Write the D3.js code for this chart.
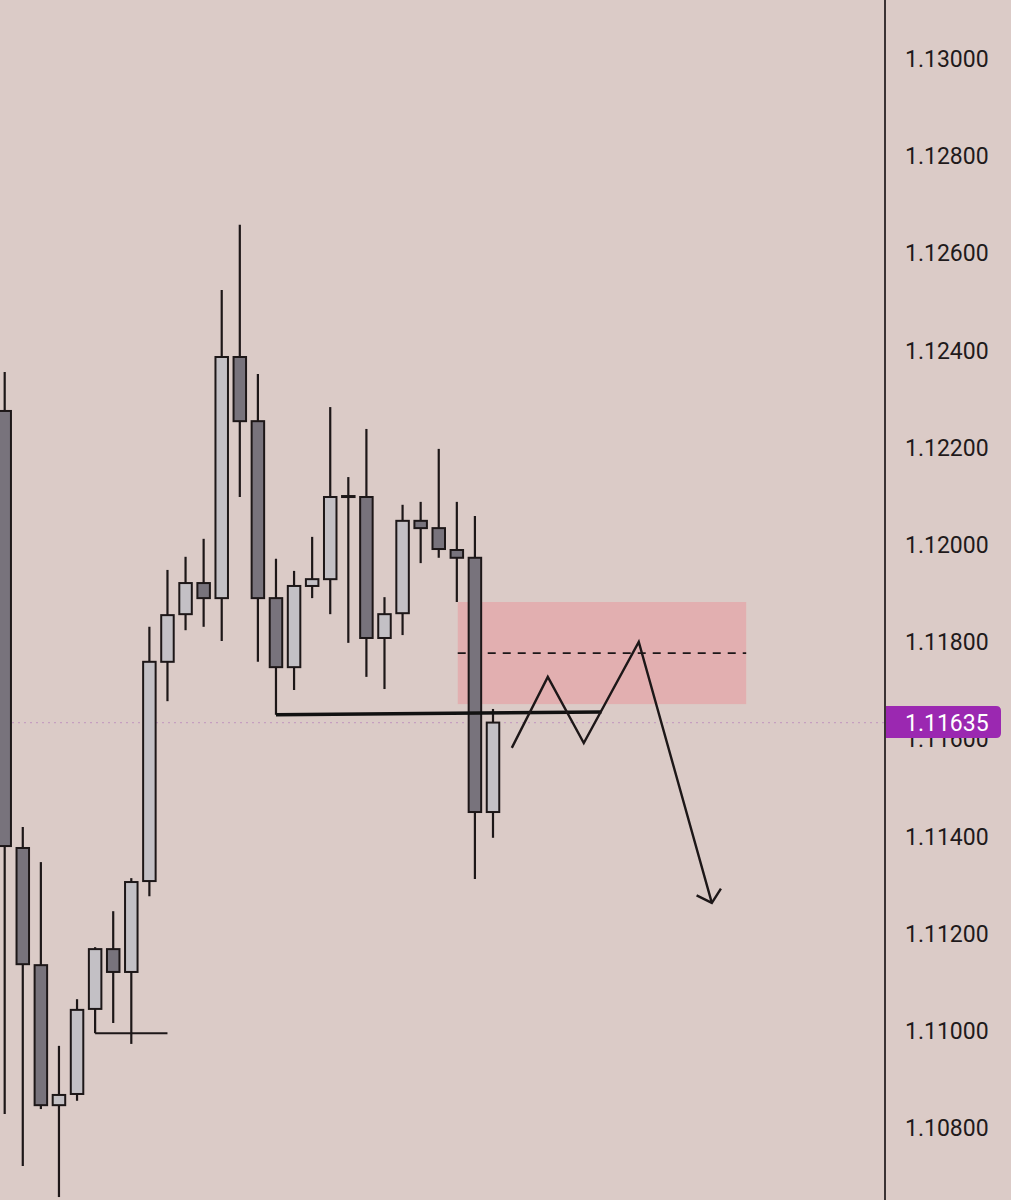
<!DOCTYPE html>
<html>
<head>
<meta charset="utf-8">
<script src="https://cdn.jsdelivr.net/npm/d3@7"></script>
<style>
  html, body { margin: 0; padding: 0; background: #dbcbc7; }
  svg { display: block; }
</style>
</head>
<body>
<svg id="chart"></svg>
<script>
// candle data (EURUSD-like)
const opens  = [1.12276, 1.11377, 1.11136, 1.10848, 1.10871, 1.11046, 1.11169, 1.11122, 1.11309, 1.11760,
                1.11858, 1.11922, 1.11891, 1.12387, 1.12255, 1.11891, 1.11749, 1.11916, 1.11930, 1.12101,
                1.12099, 1.11809, 1.11860, 1.12050, 1.12035, 1.11990, 1.11974, 1.11451];
const highs  = [1.12356, 1.11420, 1.11348, 1.10970, 1.11066, 1.11173, 1.11247, 1.11315, 1.11832, 1.11949,
                1.11976, 1.12013, 1.12525, 1.12659, 1.12352, 1.11972, 1.11947, 1.12017, 1.12284, 1.12140,
                1.12239, 1.11893, 1.12083, 1.12089, 1.12198, 1.12089, 1.12060, 1.11663];
const lows   = [1.10830, 1.10723, 1.10840, 1.10659, 1.10857, 1.10996, 1.11017, 1.10974, 1.11278, 1.11679,
                1.11825, 1.11832, 1.11803, 1.12099, 1.11760, 1.11651, 1.11702, 1.11891, 1.11858, 1.11799,
                1.11729, 1.11704, 1.11815, 1.11963, 1.11974, 1.11883, 1.11313, 1.11398];
const closes = [1.11381, 1.11138, 1.10848, 1.10869, 1.11044, 1.11169, 1.11122, 1.11307, 1.11760, 1.11856,
                1.11922, 1.11891, 1.12387, 1.12255, 1.11891, 1.11749, 1.11916, 1.11930, 1.12099, 1.12100,
                1.11809, 1.11858, 1.12050, 1.12035, 1.11992, 1.11974, 1.11451, 1.11635];

// price axis
const priceTicks = [1.130, 1.128, 1.126, 1.124, 1.122, 1.120, 1.118, 1.116, 1.114, 1.112, 1.110, 1.108];
const lastPrice = 1.11635;

// drawings (bar index, price)
const baseLineIdx = [5, 9];
const baseLinePrice = [1.10996, 1.10996];
const breakLineIdx = [15, 33];
const breakLinePrice = [1.11651, 1.11657];
const zoneIdx = [25.05, 41];
const zonePrice = [1.11883, 1.11673];
const pathIdx = [28.04, 30.03, 32.02, 35.06, 39.1];
const pathPrice = [1.11583, 1.11729, 1.11593, 1.11801, 1.11264];

const width = 1011;
const height = 1200;
const axisX = 885;
const bodyW = 12.5;

const svg = d3.select("#chart").attr("width", width).attr("height", height);

svg.append("rect")
  .attr("width", width).attr("height", height)
  .attr("fill", "#dbcbc7");

const x = d3.scaleLinear().domain([0, 27]).range([4.7, 493]);
const y = d3.scaleLinear().domain([1.108, 1.13]).range([1128.5, 59]);

const data = opens.map((o, i) => ({ i, o, h: highs[i], l: lows[i], c: closes[i] }));

// zone + midline (behind candles)
svg.append("rect")
  .attr("x", x(zoneIdx[0]))
  .attr("y", y(zonePrice[0]))
  .attr("width", x(zoneIdx[1]) - x(zoneIdx[0]))
  .attr("height", y(zonePrice[1]) - y(zonePrice[0]))
  .attr("fill", "#e2afb0");

svg.append("line")
  .attr("x1", x(zoneIdx[0])).attr("x2", x(zoneIdx[1]))
  .attr("y1", y((zonePrice[0] + zonePrice[1]) / 2))
  .attr("y2", y((zonePrice[0] + zonePrice[1]) / 2))
  .attr("stroke", "#1d1718")
  .attr("stroke-width", 1.8)
  .attr("stroke-dasharray", "8,7");

// last price dotted line
svg.append("line")
  .attr("x1", 0).attr("x2", axisX)
  .attr("y1", y(lastPrice)).attr("y2", y(lastPrice))
  .attr("stroke", "#c59fc0")
  .attr("stroke-width", 1.2)
  .attr("stroke-dasharray", "2,4");

// candles
const candle = svg.append("g").selectAll("g")
  .data(data)
  .enter()
  .append("g");

candle.append("line")
  .attr("x1", (d) => x(d.i)).attr("x2", (d) => x(d.i))
  .attr("y1", (d) => y(d.h)).attr("y2", (d) => y(d.l))
  .attr("stroke", "#1d1718")
  .attr("stroke-width", 2.2);

candle.append("rect")
  .attr("x", (d) => x(d.i) - bodyW / 2)
  .attr("y", (d) => y(Math.max(d.o, d.c)))
  .attr("width", bodyW)
  .attr("height", (d) => Math.max(1, Math.abs(y(d.o) - y(d.c))))
  .attr("fill", (d) => (d.c >= d.o ? "#c3c0c5" : "#78737c"))
  .attr("stroke", "#1d1718")
  .attr("stroke-width", 2);

// drawings on top
const line = d3.line().x((d) => x(d[0])).y((d) => y(d[1]));

svg.append("path")
  .attr("d", line(baseLineIdx.map((d, k) => [d, baseLinePrice[k]])))
  .attr("fill", "none")
  .attr("stroke", "#1d1718")
  .attr("stroke-width", 2);

svg.append("path")
  .attr("d", line(breakLineIdx.map((d, k) => [d, breakLinePrice[k]])))
  .attr("fill", "none")
  .attr("stroke", "#111")
  .attr("stroke-width", 3.5);

const pts = pathIdx.map((d, k) => [d, pathPrice[k]]);
svg.append("path")
  .attr("d", line(pts))
  .attr("fill", "none")
  .attr("stroke", "#1d1718")
  .attr("stroke-width", 2.4)
  .attr("stroke-linejoin", "miter");

// arrow head from the last segment
const tip = [x(pts[pts.length - 1][0]), y(pts[pts.length - 1][1])];
const prev = [x(pts[pts.length - 2][0]), y(pts[pts.length - 2][1])];
const ang = Math.atan2(prev[1] - tip[1], prev[0] - tip[0]);
const wing = 17;
const spread = (48 * Math.PI) / 180;
const w1 = [tip[0] + wing * Math.cos(ang - spread), tip[1] + wing * Math.sin(ang - spread)];
const w2 = [tip[0] + wing * Math.cos(ang + spread), tip[1] + wing * Math.sin(ang + spread)];
svg.append("path")
  .attr("d", `M${w1[0]},${w1[1]}L${tip[0]},${tip[1]}L${w2[0]},${w2[1]}`)
  .attr("fill", "none")
  .attr("stroke", "#1d1718")
  .attr("stroke-width", 2.4);

// price scale panel
svg.append("rect")
  .attr("x", axisX).attr("y", 0)
  .attr("width", width - axisX).attr("height", height)
  .attr("fill", "#dbcbc7");

const axis = d3.axisRight(y)
  .tickValues(priceTicks)
  .tickFormat(d3.format(".5f"))
  .tickSize(0)
  .tickPadding(20);

const gAxis = svg.append("g")
  .attr("transform", `translate(${axisX},0)`)
  .call(axis);
gAxis.select(".domain").remove();
gAxis.selectAll("text")
  .attr("fill", "#1f1a1b")
  .style("font-family", "Roboto, 'Noto Sans', sans-serif")
  .style("font-size", "23px");

svg.append("line")
  .attr("x1", axisX).attr("x2", axisX)
  .attr("y1", 0).attr("y2", height)
  .attr("stroke", "#3b3334")
  .attr("stroke-width", 2);

// last price tag
const ty = y(lastPrice);
const tagTop = ty - 16.5, tagBot = ty + 15.5, tagL = axisX + 1, tagR = 1001, r = 5;
svg.append("path")
  .attr("d", `M${tagL},${tagTop}H${tagR - r}Q${tagR},${tagTop} ${tagR},${tagTop + r}` +
    `V${tagBot - r}Q${tagR},${tagBot} ${tagR - r},${tagBot}H${tagL}Z`)
  .attr("fill", "#9b28b1");

svg.append("text")
  .attr("x", axisX + 20)
  .attr("y", ty)
  .attr("dy", "0.35em")
  .attr("fill", "#ffffff")
  .style("font-family", "Roboto, 'Noto Sans', sans-serif")
  .style("font-size", "23px")
  .text(d3.format(".5f")(lastPrice));
</script>
</body>
</html>
